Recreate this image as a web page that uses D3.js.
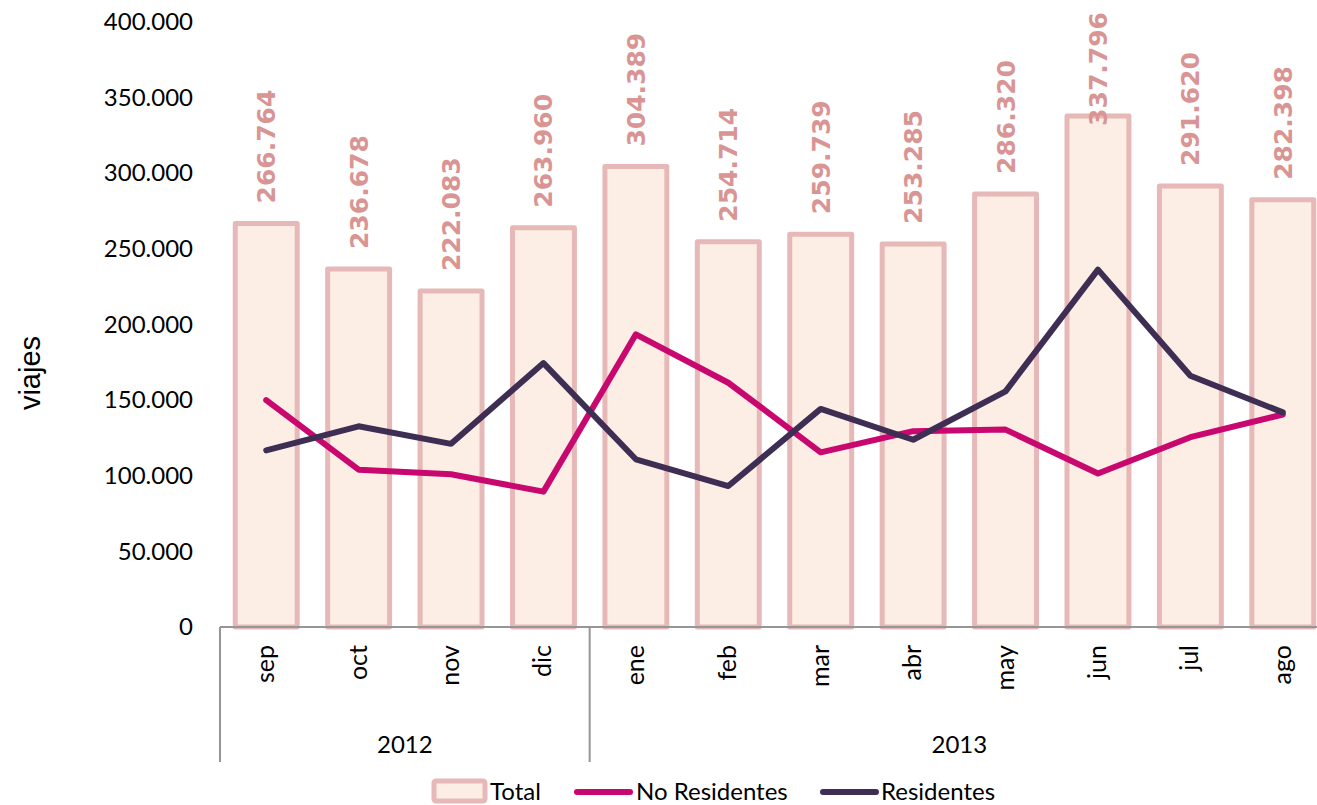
<!DOCTYPE html>
<html>
<head>
<meta charset="utf-8">
<script src="https://cdn.jsdelivr.net/npm/d3@7"></script>
<style>
  body { margin: 0; background: #fff; overflow: hidden; }
  svg { display: block; }
</style>
</head>
<body>
<div id="chart"></div>
<script>
// months and the year each belongs to
var months = ["sep", "oct", "nov", "dic", "ene", "feb", "mar", "abr", "may", "jun", "jul", "ago"];
var monthYears = ["2012", "2012", "2012", "2012", "2013", "2013", "2013", "2013", "2013", "2013", "2013", "2013"];

// series values (viajes)
var total = [266764, 236678, 222083, 263960, 304389, 254714, 259739, 253285, 286320, 337796, 291620, 282398];
var noResidentes = [150000, 104000, 101000, 89500, 193500, 161500, 115500, 129500, 130500, 101500, 125500, 140500];
var residentes = [116800, 132700, 121100, 174500, 110900, 93200, 144200, 123800, 155800, 236300, 166100, 141900];

var yTicks = [0, 50000, 100000, 150000, 200000, 250000, 300000, 350000, 400000];

var svgWidth = 1317, svgHeight = 805;
var plot = { left: 220, right: 1329, top: 22, bottom: 627 };

var barFill = "#FCEEE5", barStroke = "#E6B8B7", labelColor = "#D99594";
var nrColor = "#C8076F", rColor = "#3F2E53";

var locale = d3.formatLocale({ decimal: ",", thousands: ".", grouping: [3], currency: ["", ""] });
var fmt = locale.format(",");

var svg = d3.select("#chart").append("svg")
  .attr("width", svgWidth)
  .attr("height", svgHeight);

var xScale = d3.scaleBand()
  .domain(months)
  .range([plot.left, plot.right])
  .padding(0);
var bw = xScale.bandwidth();
var barW = bw * 0.67;

var yScale = d3.scaleLinear()
  .domain([0, 400000])
  .range([plot.bottom, plot.top]);

// y axis labels only
var yAxis = svg.append("g")
  .attr("transform", `translate(${plot.left}, 0)`)
  .call(d3.axisLeft(yScale).tickValues(yTicks).tickSize(0).tickPadding(27).tickFormat(fmt));
yAxis.select(".domain").remove();
yAxis.selectAll("text")
  .attr("font-family", "Lato, 'Open Sans', sans-serif")
  .attr("font-size", "24px")
  .attr("fill", "#000");

svg.append("text")
  .attr("transform", `translate(40, 373) rotate(-90)`)
  .attr("text-anchor", "middle")
  .attr("font-family", "'Liberation Sans', Arial, sans-serif")
  .attr("font-size", "29px")
  .attr("fill", "#000")
  .text("viajes");

// bars
var bars = svg.append("g");
bars.selectAll("rect")
  .data(total)
  .enter()
  .append("rect")
  .attr("x", (d, i) => xScale(months[i]) + (bw - barW) / 2)
  .attr("y", d => yScale(d))
  .attr("width", barW)
  .attr("height", d => yScale(0) - yScale(d))
  .attr("fill", barFill)
  .attr("stroke", barStroke)
  .attr("stroke-width", 5)
  .attr("stroke-linejoin", "round");

// category axis line
svg.append("line")
  .attr("x1", plot.left).attr("x2", plot.right)
  .attr("y1", plot.bottom).attr("y2", plot.bottom)
  .attr("stroke", "#969696").attr("stroke-width", 2);

// month labels
svg.append("g").selectAll("text")
  .data(months)
  .enter()
  .append("text")
  .attr("transform", d => `translate(${xScale(d) + bw / 2 + 8}, 645) rotate(-90)`)
  .attr("text-anchor", "end")
  .attr("font-family", "Lato, 'Open Sans', sans-serif")
  .attr("font-size", "25px")
  .attr("fill", "#000")
  .text(d => d);

// year groups
var yearNames = Array.from(new Set(monthYears));
var yearGroups = yearNames.map(function(y) {
  var idx = monthYears.map((v, i) => v === y ? i : -1).filter(i => i >= 0);
  return { year: y, x0: xScale(months[idx[0]]), x1: xScale(months[idx[idx.length - 1]]) + bw };
});
svg.append("g").selectAll("line")
  .data(yearGroups)
  .enter()
  .append("line")
  .attr("x1", d => d.x0).attr("x2", d => d.x0)
  .attr("y1", plot.bottom).attr("y2", 762)
  .attr("stroke", "#969696").attr("stroke-width", 2);
svg.append("g").selectAll("text")
  .data(yearGroups)
  .enter()
  .append("text")
  .attr("x", d => (d.x0 + d.x1) / 2)
  .attr("y", 753)
  .attr("text-anchor", "middle")
  .attr("font-family", "Lato, 'Open Sans', sans-serif")
  .attr("font-size", "24px")
  .attr("fill", "#000")
  .text(d => d.year);

// lines
var lineGen = d3.line()
  .x((d, i) => xScale(months[i]) + bw / 2)
  .y(d => yScale(d));
[[noResidentes, nrColor], [residentes, rColor]].forEach(function(s) {
  svg.append("path")
    .datum(s[0])
    .attr("d", lineGen)
    .attr("fill", "none")
    .attr("stroke", s[1])
    .attr("stroke-width", 6)
    .attr("stroke-linejoin", "round")
    .attr("stroke-linecap", "round");
});

// data labels for totals, kept inside the chart top
svg.append("g").selectAll("text")
  .data(total)
  .enter()
  .append("text")
  .attr("text-anchor", "start")
  .attr("font-family", "'DejaVu Sans', Verdana, sans-serif")
  .attr("font-weight", "bold")
  .attr("font-size", "25px")
  .attr("fill", labelColor)
  .text(d => fmt(d))
  .each(function(d, i) {
    var len = this.getComputedTextLength();
    var bottom = Math.max(yScale(d) - 20, 12 + len);
    d3.select(this).attr("transform", `translate(${xScale(months[i]) + bw / 2 + 9}, ${bottom}) rotate(-90)`);
  });

// legend
var legend = svg.append("g").attr("font-family", "Lato, 'Open Sans', sans-serif").attr("font-size", "24px");
legend.append("rect")
  .attr("x", 434).attr("y", 781).attr("width", 51).attr("height", 20)
  .attr("rx", 2)
  .attr("fill", barFill).attr("stroke", barStroke).attr("stroke-width", 5);
legend.append("text").attr("x", 490).attr("y", 800).text("Total");
legend.append("line")
  .attr("x1", 577).attr("x2", 630).attr("y1", 792).attr("y2", 792)
  .attr("stroke", nrColor).attr("stroke-width", 6).attr("stroke-linecap", "round");
legend.append("text").attr("x", 636).attr("y", 800).text("No Residentes");
legend.append("line")
  .attr("x1", 823).attr("x2", 876).attr("y1", 792).attr("y2", 792)
  .attr("stroke", rColor).attr("stroke-width", 6).attr("stroke-linecap", "round");
legend.append("text").attr("x", 881).attr("y", 800).text("Residentes");
</script>
</body>
</html>
